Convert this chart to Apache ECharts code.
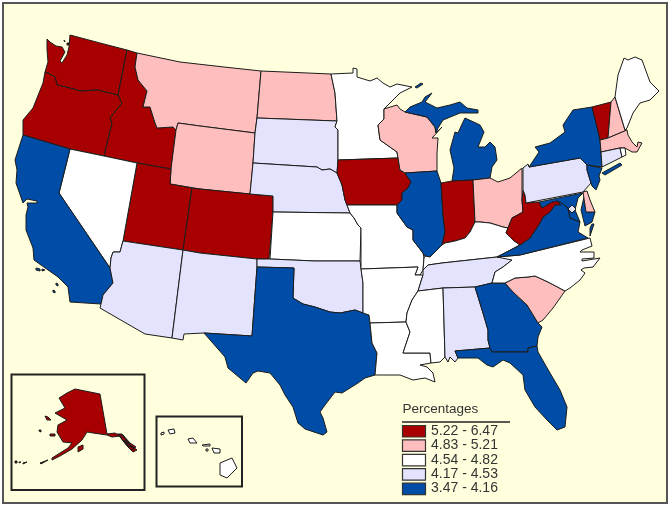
<!DOCTYPE html>
<html>
<head>
<meta charset="utf-8">
<title>Percentages by state</title>
<script src="https://cdn.jsdelivr.net/npm/echarts@6/dist/echarts.min.js"></script>
<style>
  html, body { margin: 0; padding: 0; background: #fff; }
  #chart { width: 672px; height: 508px; }
</style>
</head>
<body>
<div id="chart"></div>
<script>
const legendTitle = "Percentages";
const classLabels = ["5.22 - 6.47", "4.83 - 5.21", "4.54 - 4.82", "4.17 - 4.53", "3.47 - 4.16"];
const classColors = ["#a80000", "#ffbebe", "#ffffff", "#e3e3fd", "#004da8"];

// state names per legend class, top class first
const class1States = ["WA", "OR", "ID", "UT", "CO", "IA", "IN", "WV", "VT", "AK"];
const class2States = ["MT", "ND", "WY", "WI", "OH", "SC", "NH", "MA", "DE"];
const class3States = ["NV", "MN", "KS", "MO", "AR", "LA", "MS", "KY", "NC", "ME", "RI", "HI"];
const class4States = ["SD", "NE", "AZ", "NM", "OK", "TN", "AL", "PA", "CT", "DC"];
const class5States = ["CA", "TX", "IL", "MI", "NY", "NJ", "VA", "MD", "GA", "FL"];

// base map outlines, traced in the picture's own grid (one ring or several per state)
const outlines = {
  WA: [[[47,39],[50,42],[56,46],[62,47],[65,52],[60,61],[62,63],[67,55],[69,47],[70,35],[100,43],[127,50],[118,95],[97,90],[80,91],[70,88],[57,85],[55,77],[48,73],[45,72],[48,62],[47,50]],
       [[64,40],[65,40],[65,42],[64,42]], [[67,43],[69,43],[69,45],[67,45]]],
  OR: [[[48,73],[55,77],[57,85],[70,88],[80,91],[97,90],[118,95],[122,103],[110,118],[112,123],[104,156],[70,149],[23,135],[23,120],[33,108],[43,83],[45,72]]],
  ID: [[[127,50],[137,53],[135,67],[138,80],[147,91],[143,107],[150,107],[155,123],[157,128],[173,127],[176,130],[171,169],[137,163],[104,156],[112,123],[110,118],[122,103],[118,95]]],
  MT: [[[137,53],[180,62],[224,67],[261,71],[257,118],[255,133],[200,126],[178,123],[176,130],[173,127],[157,128],[155,123],[150,107],[143,107],[147,91],[138,80],[135,67]]],
  WY: [[[178,123],[200,126],[255,133],[253,163],[250,194],[200,189],[170,184],[171,169],[176,130]]],
  UT: [[[137,163],[171,169],[170,184],[192,188],[183,250],[123,241]]],
  CO: [[[192,188],[200,189],[250,194],[273,196],[273,212],[269,259],[257,259],[200,253],[183,250]]],
  NV: [[[70,149],[104,156],[137,163],[123,241],[120,252],[113,252],[111,258],[110,268],[59,193]]],
  CA: [[[23,135],[70,149],[59,193],[110,268],[113,283],[103,295],[101,304],[70,302],[68,287],[58,277],[34,260],[33,248],[26,230],[26,215],[28,207],[27,203],[37,203],[37,201],[27,199],[23,203],[16,183],[17,170],[15,160]],
       [[36,268],[40,269],[40,271],[36,270]], [[42,269],[45,270],[45,271],[42,271]], [[56,283],[58,284],[58,286],[56,285]], [[53,290],[55,291],[55,293],[53,292]]],
  AZ: [[[123,241],[183,250],[172,338],[145,334],[100,308],[101,304],[103,295],[113,283],[110,268],[111,258],[113,252],[120,252]]],
  NM: [[[183,250],[200,253],[257,259],[257,267],[252,336],[204,333],[184,334],[183,340],[172,338]]],
  ND: [[[261,71],[331,74],[335,93],[337,121],[257,118]]],
  SD: [[[257,118],[337,121],[335,127],[338,130],[338,160],[337,173],[330,169],[322,170],[317,167],[253,163],[255,133]]],
  NE: [[[253,163],[317,167],[322,170],[330,169],[337,173],[342,185],[345,200],[347,205],[350,213],[273,212],[273,196],[250,194]]],
  KS: [[[273,212],[350,213],[354,218],[358,225],[361,228],[360,261],[315,261],[270,259],[269,259]]],
  OK: [[[257,259],[270,259],[315,261],[360,261],[361,268],[363,283],[363,313],[355,310],[340,313],[330,312],[315,307],[303,304],[293,298],[294,268],[257,267]]],
  TX: [[[257,267],[294,268],[293,298],[303,304],[315,307],[330,312],[340,313],[355,310],[363,313],[369,315],[370,323],[372,343],[377,353],[375,375],[365,378],[358,383],[342,393],[335,392],[325,405],[320,412],[323,418],[327,432],[323,435],[305,429],[298,423],[293,407],[285,395],[280,385],[270,373],[258,371],[253,373],[246,383],[228,368],[225,357],[204,333],[252,336]]],
  MN: [[[331,74],[353,73],[353,68],[357,69],[357,77],[370,81],[377,78],[383,83],[390,87],[397,84],[412,87],[400,93],[384,109],[384,119],[378,125],[380,140],[397,152],[398,158],[338,160],[338,130],[335,127],[337,121],[335,93]]],
  IA: [[[338,160],[398,158],[400,170],[405,173],[411,182],[408,188],[402,193],[402,200],[397,205],[347,205],[345,200],[342,185],[337,173]]],
  MO: [[[347,205],[397,205],[397,213],[407,227],[413,230],[413,240],[423,253],[424,258],[423,270],[420,275],[415,275],[418,267],[361,269],[361,228],[358,225],[354,218],[350,213]]],
  AR: [[[361,269],[418,267],[415,275],[420,275],[423,275],[418,291],[412,300],[407,313],[406,322],[370,323],[369,315],[363,313],[363,283]]],
  LA: [[[370,323],[406,322],[410,332],[403,353],[430,353],[431,363],[420,365],[427,367],[433,373],[435,382],[425,378],[413,380],[400,375],[375,375],[377,353],[372,343]]],
  WI: [[[384,109],[397,105],[400,109],[405,112],[427,117],[435,127],[436,133],[442,127],[432,138],[438,138],[437,153],[437,171],[405,173],[400,170],[398,158],[397,152],[380,140],[378,125],[384,119]]],
  IL: [[[405,173],[437,171],[441,183],[443,215],[445,232],[442,245],[432,255],[430,257],[425,256],[423,253],[413,240],[413,230],[407,227],[397,213],[397,205],[402,200],[402,193],[408,188],[411,182]]],
  MI: [[[405,112],[410,107],[422,102],[425,97],[432,93],[425,102],[437,108],[450,105],[460,102],[467,108],[478,110],[478,113],[470,113],[460,113],[443,120],[438,128],[436,133],[435,127],[427,117]],
       [[465,118],[480,125],[484,132],[478,147],[485,147],[490,142],[495,147],[497,160],[492,167],[490,178],[473,180],[452,181],[454,168],[450,150],[455,132],[458,133],[463,122]],
       [[415,87],[421,83],[423,84],[417,88]]],
  IN: [[[441,183],[452,181],[473,180],[475,222],[470,232],[465,238],[455,241],[445,243],[442,245],[445,232],[443,215]]],
  OH: [[[473,180],[490,178],[498,182],[510,178],[522,168],[522,190],[522,200],[523,212],[512,218],[508,228],[503,227],[490,223],[480,222],[475,222]]],
  KY: [[[423,270],[424,258],[425,256],[430,257],[432,255],[442,245],[445,243],[455,241],[465,238],[470,232],[475,222],[480,222],[490,223],[503,227],[508,228],[506,233],[513,240],[520,245],[497,257],[442,263],[428,265]]],
  TN: [[[428,265],[442,263],[497,257],[520,255],[512,260],[503,267],[495,272],[492,283],[475,287],[443,288],[418,291],[423,275],[423,270]]],
  MS: [[[418,291],[443,288],[445,357],[440,362],[431,363],[430,353],[403,353],[410,332],[406,322],[407,313],[412,300]]],
  AL: [[[443,288],[475,287],[483,313],[488,330],[488,340],[490,348],[455,351],[458,358],[455,362],[450,357],[448,362],[445,357]]],
  GA: [[[475,287],[492,283],[505,283],[513,292],[527,305],[538,323],[542,327],[538,337],[537,346],[528,348],[528,352],[492,352],[490,348],[488,340],[488,330],[483,313]]],
  FL: [[[455,351],[490,348],[492,352],[528,352],[528,348],[537,346],[538,352],[550,373],[560,390],[567,407],[565,427],[557,430],[547,420],[535,407],[525,390],[523,375],[510,363],[503,360],[493,367],[487,365],[478,358],[462,358],[458,358]]],
  SC: [[[505,283],[515,278],[528,277],[535,276],[548,282],[565,291],[553,308],[543,320],[538,323],[527,305],[513,292]]],
  NC: [[[497,257],[520,255],[590,238],[592,246],[582,250],[580,252],[594,252],[594,258],[582,259],[582,261],[600,258],[593,267],[584,268],[581,270],[585,273],[580,280],[570,288],[565,291],[548,282],[535,276],[528,277],[515,278],[505,283],[492,283],[495,272],[503,267],[512,260]]],
  VA: [[[497,257],[520,245],[530,238],[540,223],[543,217],[550,212],[555,205],[557,201],[562,203],[568,208],[570,218],[580,222],[578,232],[588,238],[520,255]],
       [[590,228],[592,224],[594,224],[590,236]]],
  WV: [[[526,203],[525,195],[523,190],[522,200],[523,212],[512,218],[508,228],[506,233],[513,240],[520,245],[530,238],[540,223],[543,217],[550,212],[555,205],[561,205],[557,201],[552,202],[542,208],[539,202]]],
  MD: [[[539,202],[583,193],[578,198],[575,210],[580,222],[570,218],[568,208],[562,203],[557,201],[552,202],[542,208]],
       [[584,197],[586,212],[595,212],[592,222],[585,226],[581,210]]],
  DC: [[[572,205],[576,209],[572,213],[568,209]]],
  DE: [[[583,192],[587,191],[590,200],[595,212],[586,212]]],
  PA: [[[523,168],[528,164],[529,167],[580,158],[587,165],[587,170],[591,183],[583,192],[526,203],[525,195],[523,190]]],
  NJ: [[[587,165],[602,168],[599,176],[600,180],[596,190],[592,186],[591,183],[587,170]]],
  NY: [[[592,107],[597,127],[600,140],[601,152],[602,167],[587,165],[580,158],[529,167],[539,152],[535,147],[550,143],[565,132],[563,125],[573,110]],
       [[602,173],[620,163],[622,165],[605,175]]],
  VT: [[[592,107],[611,102],[608,138],[600,140],[597,127]]],
  NH: [[[611,102],[615,97],[625,130],[627,130],[608,138]]],
  ME: [[[615,97],[618,75],[624,58],[628,60],[635,57],[642,60],[650,82],[659,91],[650,100],[640,103],[633,113],[627,128],[625,130]]],
  MA: [[[600,140],[608,138],[627,130],[628,135],[632,142],[637,147],[638,142],[642,143],[637,152],[632,152],[625,148],[620,148],[601,152]]],
  CT: [[[601,152],[620,148],[622,157],[602,167]]],
  RI: [[[620,148],[625,148],[626,155],[622,157]]],
  AK: [[[75,389],[100,394],[107,434],[115,433],[120,436],[112,437],[107,435],[93,433],[87,432],[82,440],[72,449],[60,456],[52,460],[52,458],[68,448],[72,443],[63,442],[57,432],[58,425],[67,420],[55,413],[65,408],[59,398],[67,393]],
       // south-east panhandle islands, thin enough to read as dark
       [[117,434],[122,434],[130,443],[127,444]], [[120,437],[124,437],[131,446],[128,447]], [[123,441],[126,441],[134,449],[131,450]], [[126,444],[130,443],[136,447],[133,448]],
       [[128,447],[132,446],[137,450],[133,452]], [[119,435],[123,435],[127,441],[124,442]],
       [[78,447],[83,445],[83,449],[78,452]],
       [[45,416],[48,417],[51,420],[47,420]], [[39,430],[41,430],[41,432],[39,431]], [[50,434],[55,434],[55,436],[50,436]],
       [[15,461],[17,461],[17,463],[15,463]], [[19,462],[21,462],[21,463],[19,463]], [[23,463],[27,462],[27,463],[23,464]], [[40,463],[48,460],[48,461],[41,464]]],
  HI: [[[220,463],[232,458],[237,468],[227,478],[220,475]], [[212,448],[220,449],[220,453],[214,453]], [[188,439],[193,438],[197,443],[190,443]],
       [[168,430],[174,429],[175,433],[170,434]], [[161,433],[164,432],[164,434],[161,435]], [[202,445],[210,444],[210,446],[203,446]], [[206,449],[208,449],[208,451],[206,451]]]
};

const classLists = [class1States, class2States, class3States, class4States, class5States];

function buildGeoJson() {
  return {
    type: "FeatureCollection",
    features: Object.keys(outlines).map(name => ({
      type: "Feature",
      properties: { name: name },
      geometry: { type: "MultiPolygon", coordinates: outlines[name].map(ring => [ring.concat([ring[0]])]) }
    }))
  };
}

function buildLegend() {
  const items = [
    { type: "text", left: 402.5, top: 402, style: { text: legendTitle, fill: "#333", font: "13.5px 'Liberation Sans'" } },
    { type: "line", shape: { x1: 402, y1: 422, x2: 510, y2: 422 }, style: { stroke: "#222", lineWidth: 1.5 } }
  ];
  classLabels.forEach((label, i) => {
    const y = 425.5 + i * 14.4;
    items.push({ type: "rect", shape: { x: 402.5, y: y, width: 23, height: 11.5 }, style: { fill: classColors[i], stroke: "#333", lineWidth: 1.2 } });
    items.push({ type: "text", left: 431, top: y - 1.5, style: { text: label, fill: "#333", font: "14px 'Liberation Sans'" } });
  });
  return items;
}

echarts.registerMap("usa", buildGeoJson());

const chart = echarts.init(document.getElementById("chart"), null, { renderer: "canvas" });
chart.setOption({
  animation: false,
  backgroundColor: "#ffffff",
  visualMap: {
    show: false,
    type: "piecewise",
    dimension: 0,
    pieces: classColors.map((color, i) => ({ value: i, color: color }))
  },
  graphic: { elements: [
    { type: "rect", z: -10, shape: { x: 3, y: 3, width: 664, height: 500 }, style: { fill: "#ffffdd", stroke: "#555", lineWidth: 2 } },
    { type: "rect", z: 1, shape: { x: 11.5, y: 374.5, width: 133, height: 115.5 }, style: { fill: "none", stroke: "#222", lineWidth: 2 } },
    { type: "rect", z: 1, shape: { x: 156.5, y: 416.5, width: 85.5, height: 70 }, style: { fill: "none", stroke: "#222", lineWidth: 2 } }
  ].concat(buildLegend()) },
  series: [{
    type: "map",
    map: "usa",
    silent: true,
    roam: false,
    projection: { project: p => p, unproject: p => p },
    boundingCoords: [[0, 0], [672, 508]],
    left: 0, top: 0, width: 672, height: 508,
    label: { show: false },
    emphasis: { disabled: true },
    itemStyle: { borderColor: "#1c1c1c", borderWidth: 1 },
    data: classLists.flatMap((names, i) => names.map(name => ({ name: name, value: i })))
  }]
});
</script>
</body>
</html>
